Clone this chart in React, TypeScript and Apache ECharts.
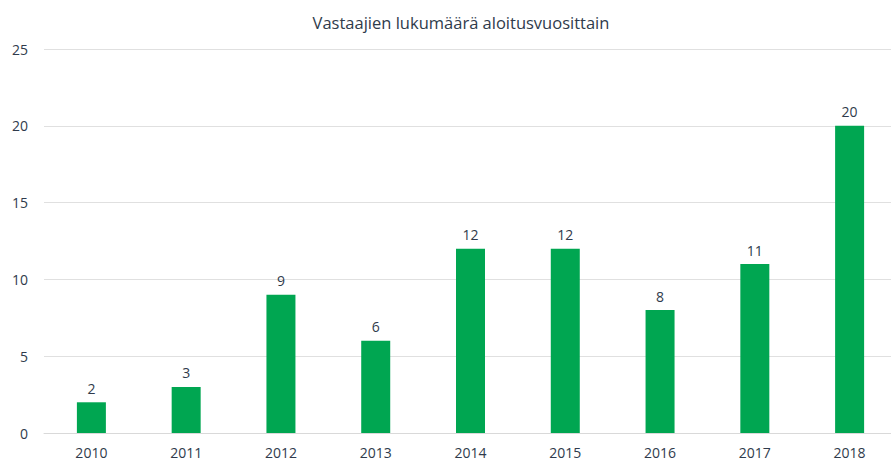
import React, { useEffect, useRef } from "react";
import * as echarts from "echarts";

const titleText = "Vastaajien lukumäärä aloitusvuosittain";
const categories = ["2010", "2011", "2012", "2013", "2014", "2015", "2016", "2017", "2018"];
const values = [2, 3, 9, 6, 12, 12, 8, 11, 20];

export default function App() {
  const ref = useRef<HTMLDivElement>(null);
  useEffect(() => {
    if (!ref.current) return;
    const chart = echarts.init(ref.current, null, { renderer: "svg" });
    const font = "'Open Sans', 'Noto Sans', sans-serif";
    chart.setOption({
      animation: false,
      title: {
        text: titleText,
        left: 456,
        textAlign: "center",
        top: 9,
        textStyle: { fontFamily: font, fontSize: 16.5, fontWeight: "normal", color: "#2f3b4c" },
      },
      grid: { left: 44, top: 49, right: 0, bottom: 30, containLabel: false },
      xAxis: {
        type: "category",
        data: categories,
        axisTick: { show: false },
        axisLine: { lineStyle: { color: "#d9d9d9", width: 1 } },
        axisLabel: { fontFamily: font, fontSize: 14, color: "#2f3b4c", margin: 12 },
      },
      yAxis: {
        type: "value",
        min: 0,
        max: 25,
        interval: 5,
        axisLine: { show: false },
        axisTick: { show: false },
        splitLine: { lineStyle: { color: "#e0e0e0", width: 1 } },
        axisLabel: { fontFamily: font, fontSize: 14, color: "#2f3b4c", margin: 16 },
      },
      series: [
        {
          type: "bar",
          data: values,
          barWidth: 29,
          itemStyle: { color: "#00a651" },
          label: {
            show: true,
            position: "top",
            distance: 7,
            fontFamily: font,
            fontSize: 14,
            color: "#2f3b4c",
          },
        },
      ],
    });
    return () => chart.dispose();
  }, []);
  return (
    <div
      style={{
        position: "fixed",
        left: 0,
        top: 0,
        width: 891,
        height: 463,
        overflow: "hidden",
        background: "#fff",
      }}
    >
      <div ref={ref} style={{ width: 897, height: 463 }} />
    </div>
  );
}
